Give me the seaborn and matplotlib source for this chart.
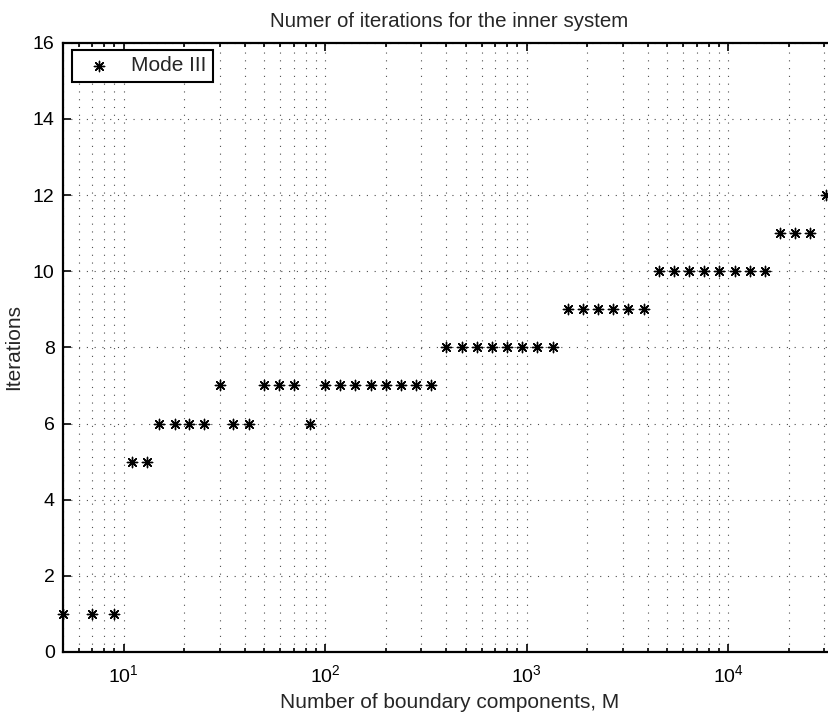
import matplotlib
matplotlib.use('Agg')
import numpy as np
import pandas as pd
import matplotlib.pyplot as plt
import seaborn as sns

# Values
boundary_m = [5, 7, 9, 11, 13, 15, 18, 21, 25, 30, 35, 42, 50, 59, 70, 84,
              100, 119, 141, 168, 200, 238, 283, 336,
              400, 476, 566, 673, 800, 951, 1131, 1345,
              1600, 1903, 2263, 2691, 3200, 3806,
              4525, 5382, 6400, 7611, 9051, 10763, 12800, 15222,
              18102, 21527, 25600, 30443]
iterations = [1, 1, 1, 5, 5, 6, 6, 6, 6, 7, 6, 6, 7, 7, 7, 6,
              7, 7, 7, 7, 7, 7, 7, 7,
              8, 8, 8, 8, 8, 8, 8, 8,
              9, 9, 9, 9, 9, 9,
              10, 10, 10, 10, 10, 10, 10, 10,
              11, 11, 11, 12]
series_label = 'Mode III'

df = pd.DataFrame({'M': boundary_m, 'iters': iterations})

sns.set_style('ticks')
plt.rcParams['font.family'] = ['Liberation Sans', 'DejaVu Sans']
plt.rcParams['mathtext.fontset'] = 'custom'
plt.rcParams['mathtext.rm'] = 'Liberation Sans'

W, H = 829, 717
fig = plt.figure(figsize=(W / 100, H / 100), dpi=100)
# axes run a little past the right edge (the reference is cropped there)
ax_w = 836 - 63
ax_h = 652 - 42.7
ax = fig.add_axes([63 / W, (H - 652) / H, ax_w / W, ax_h / H])

sns.scatterplot(data=df, x='M', y='iters', ax=ax, marker=(8, 2, 0),
                color='black', edgecolor='black', s=55, linewidth=1.0,
                label=series_label, zorder=3, clip_on=False)

ax.set_xscale('log')
ax.set_xlim(5, 10 ** (np.log10(5) + ax_w / 201.5))
ax.set_ylim(0, 16)
ax.set_yticks(np.arange(0, 17, 2))

ax.grid(True, which='both', axis='x', color='0.3', linestyle=(0, (1, 6)), linewidth=0.8)
ax.grid(True, which='major', axis='y', color='0.3', linestyle=(0, (1, 6)), linewidth=0.8)
ax.set_axisbelow(True)

ax.tick_params(which='both', direction='in', top=True, right=True, labelsize=14,
               width=1.2, colors='black')
ax.tick_params(which='major', length=6)
ax.tick_params(which='minor', length=3)
ax.tick_params(axis='x', which='major', pad=9)
ax.tick_params(axis='y', which='major', pad=6)
for side in ['left', 'bottom', 'top', 'right']:
    ax.spines[side].set_linewidth(1.6)
    ax.spines[side].set_color('black')

ax.set_title('Numer of iterations for the inner system', fontsize=14.8, pad=11)
ax.set_xlabel('Number of boundary components, M', fontsize=15, labelpad=5)
ax.set_ylabel('Iterations', fontsize=15, labelpad=7)

leg = ax.legend(loc='upper left', fontsize=15, frameon=True, fancybox=False,
                borderaxespad=0, handletextpad=0.53, handlelength=2.0,
                borderpad=0.3,
                bbox_to_anchor=(9 / ax_w, 1 - 7.3 / ax_h))
leg.get_frame().set_edgecolor('black')
leg.get_frame().set_linewidth(1.5)
leg.get_frame().set_alpha(1)

fig.savefig('out.png', dpi=100)
